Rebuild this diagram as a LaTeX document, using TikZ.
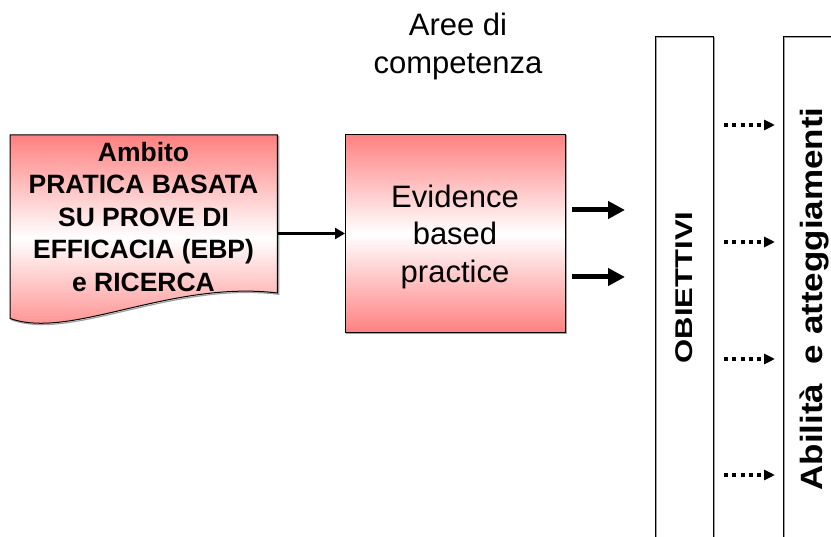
\documentclass[tikz,border=0pt]{standalone}
\usepackage{fontspec}
\setmainfont{Liberation Sans}
\usetikzlibrary{arrows.meta,calc,shadows}

\definecolor{boxred}{RGB}{255,128,128}
\definecolor{edgegrey}{RGB}{160,160,160}

\begin{document}
\begin{tikzpicture}[x=1pt,y=-1pt,
  edgeshadow/.style={general shadow={draw=edgegrey, fill=none, line width=1.2pt,
      shadow xshift=1.3pt, shadow yshift=-1.3pt}},
  redshade/.style={top color=boxred, bottom color=boxred, middle color=white},
  outline/.style={draw=black, line width=1pt},
  plainbox/.style={rectangle, inner sep=0pt, outline, edgeshadow},
  ghost/.style={rectangle, inner sep=0pt, draw=none},
  boldtext/.style={align=center, inner sep=0pt, font={\fontsize{26.5}{32.5}\selectfont\bfseries}},
  bigtext/.style={align=center, inner sep=0pt, font={\fontsize{31}{37.5}\selectfont}},
  thinarrow/.style={draw=black, line width=2.5pt, -{Triangle[length=10pt,width=11pt]}},
  thickarrow/.style={draw=black, line width=5pt, -{Triangle[length=17pt,width=17pt]}},
  dotarrow/.style={draw=black, line width=4pt, line cap=butt,
      dash pattern=on 4pt off 4.3pt, -{Triangle[length=11pt,width=10pt]}},
  sidetext/.style={inner sep=0pt, anchor=base, rotate=90}]

\useasboundingbox (0,0) rectangle (831,537);
\clip (0,0) rectangle (831,537);

% ---- document-shaped source box ----
\node[ghost, anchor=north west, minimum width=267, minimum height=183] (ambito) at (10,135) {};
\path[redshade, outline, edgeshadow]
  (ambito.north west) -- (ambito.north east) -- ($(ambito.north east)+(0,158)$)
  .. controls ($(ambito.north east)+(-107,145)$) and ($(ambito.south west)+(60,22)$)
  .. (ambito.south west) -- cycle;
\node[boldtext] (ambitolabel) at (143.5,217)
  {Ambito\\PRATICA BASATA\\SU PROVE DI\\EFFICACIA (EBP)\\e RICERCA};

% ---- competence area ----
\node[bigtext] (aree) at (458,46.5) {Aree di\\competenza};
\node[plainbox, redshade, anchor=north west, minimum width=220, minimum height=198]
  (evidence) at (345,134) {};
\node[bigtext] (evidencelabel) at (455,236.6) {Evidence\\based\\practice};

\draw[thinarrow] (ambito.east |- evidence.west) -- (evidence.west);

\coordinate (outA) at (572,210);
\coordinate (endA) at (625,210);
\coordinate (outB) at (572,277);
\coordinate (endB) at (625,277);
\draw[thickarrow] (outA) -- (endA);
\draw[thickarrow] (outB) -- (endB);

% ---- tall columns ----
\node[plainbox, anchor=north west, minimum width=58, minimum height=540] (obiettivi) at (655,36) {};
\node[plainbox, anchor=north west, minimum width=80, minimum height=540] (abilita) at (783,36) {};

\node[sidetext, font={\fontsize{31}{31}\selectfont\bfseries}]
  (obiettivilabel) at (692,287.5) {\scalebox{1}[0.78]{OBIETTIVI}};
\node[sidetext, font={\fontsize{35}{35}\selectfont\bfseries}]
  (abilitalabel) at (822,299) {\scalebox{1}[0.88]{Abilità\ \ e atteggiamenti}};

\foreach \yy [count=\i] in {125,242,359,475} {
  \coordinate (dotS\i) at (obiettivi.east |- 0,\yy);
  \coordinate (dotE\i) at (775,\yy);
  \draw[dotarrow] ([xshift=10pt]dotS\i) -- (dotE\i);
}
\end{tikzpicture}
\end{document}
